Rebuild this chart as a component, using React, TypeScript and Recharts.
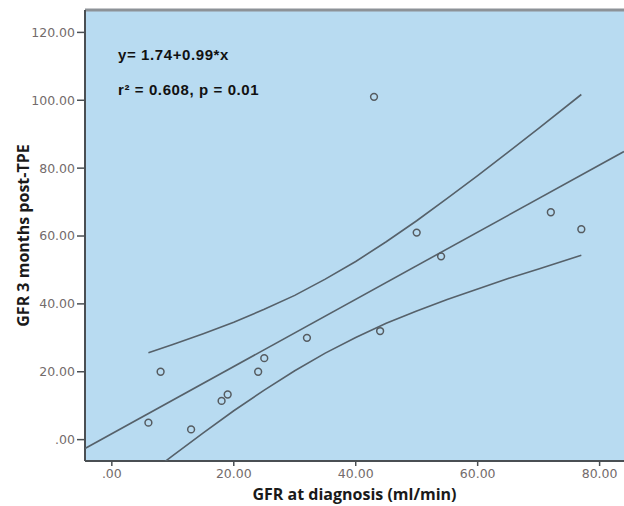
import { CartesianGrid, ReferenceLine, Scatter, ScatterChart, XAxis, YAxis } from "recharts";

// GFR at diagnosis vs GFR 3 months post-TPE
const gfrDiagnosis = [6, 8, 13, 18, 19, 24, 25, 32, 43, 44, 50, 54, 72, 77];
const gfrPostTpe = [5, 20, 3, 11.4, 13.3, 20, 24, 30, 101, 32, 61, 54, 67, 62];

// fitted line y = 1.74 + 0.99x, taken at the plot edges
const fitX = [-4.4, 84];
const fitY = [-2.6, 84.9];

// 95% band around the fit
const bandX = [6, 10, 15, 20, 25, 30, 35, 40, 45, 50, 55, 60, 65, 70, 77];
const bandUpper = [25.6, 28.0, 31.2, 34.6, 38.4, 42.5, 47.3, 52.5, 58.3, 64.5, 71.1, 77.8, 84.7, 91.7, 101.7];
const bandLower = [-10.2, -4.7, 2.0, 8.5, 14.6, 20.3, 25.5, 30.1, 34.3, 37.9, 41.3, 44.4, 47.5, 50.3, 54.3];

const xTicks = [0, 20, 40, 60, 80];
const yTicks = [0, 20, 40, 60, 80, 100, 120];

const points = gfrDiagnosis.map((x, i) => ({ x, y: gfrPostTpe[i] }));
const fit = fitX.map((x, i) => ({ x, y: fitY[i] }));
const upper = bandX.map((x, i) => ({ x, y: bandUpper[i] }));
const lower = bandX.map((x, i) => ({ x, y: bandLower[i] }));

const fmt = (v: number) => (v === 0 ? ".00" : v.toFixed(2));
const tickStyle = { fill: "#736b6b", fontSize: 12.5, fontFamily: "DejaVu Sans" };
const lineStyle = { stroke: "#56616a", strokeWidth: 1.6 };
const titleStyle = { fill: "#1a1a1a", fontSize: 16, fontWeight: "bold", fontFamily: "Open Sans" };
const noShape = () => <g />;
const ring = (p: any) => <circle cx={p.cx} cy={p.cy} r={3.4} fill="none" stroke="#555b60" strokeWidth={1.5} />;

const noteStyle: React.CSSProperties = {
  position: "absolute",
  left: 118,
  fontFamily: "Liberation Sans, Arial, sans-serif",
  fontWeight: "bold",
  fontSize: 15,
  letterSpacing: 0.6,
  lineHeight: "16px",
  color: "#111",
  whiteSpace: "nowrap",
};

export default function App() {
  return (
    <div style={{ position: "absolute", left: 0, top: 0, width: 624, height: 506, background: "#fff" }}>
      <ScatterChart width={624} height={506} margin={{ top: 10, right: 0, bottom: 0, left: 0 }}>
        <CartesianGrid horizontal={false} vertical={false} fill="#b8dbf1" />
        <XAxis
          type="number"
          dataKey="x"
          domain={[-4.4, 84]}
          ticks={xTicks}
          tickFormatter={fmt}
          allowDataOverflow
          height={45}
          tickSize={5}
          tickMargin={3}
          tick={tickStyle}
          axisLine={{ stroke: "#4a4f53", strokeWidth: 2 }}
          tickLine={{ stroke: "#4a4f53", strokeWidth: 1.5 }}
          label={{ value: "GFR at diagnosis (ml/min)", position: "insideBottom", offset: 6, style: titleStyle }}
        />
        <YAxis
          type="number"
          dataKey="y"
          domain={[-6.3, 126.6]}
          ticks={yTicks}
          tickFormatter={fmt}
          allowDataOverflow
          width={85}
          tickSize={8}
          tickMargin={2}
          tick={tickStyle}
          axisLine={{ stroke: "#4a4f53", strokeWidth: 2 }}
          tickLine={{ stroke: "#4a4f53", strokeWidth: 1.5 }}
          label={{
            value: "GFR 3 months post-TPE",
            angle: -90,
            position: "insideLeft",
            offset: 23,
            style: { ...titleStyle, textAnchor: "middle" },
          }}
        />
        <ReferenceLine y={126.6} stroke="#8d9297" strokeWidth={3} />
        <Scatter data={fit} line={lineStyle} shape={noShape} isAnimationActive={false} />
        <Scatter data={upper} line={lineStyle} shape={noShape} isAnimationActive={false} />
        <Scatter data={lower} line={lineStyle} shape={noShape} isAnimationActive={false} />
        <Scatter data={points} shape={ring} isAnimationActive={false} />
      </ScatterChart>
      <div style={{ ...noteStyle, top: 47 }}>y= 1.74+0.99*x</div>
      <div style={{ ...noteStyle, top: 82 }}>r² = 0.608, p = 0.01</div>
    </div>
  );
}
